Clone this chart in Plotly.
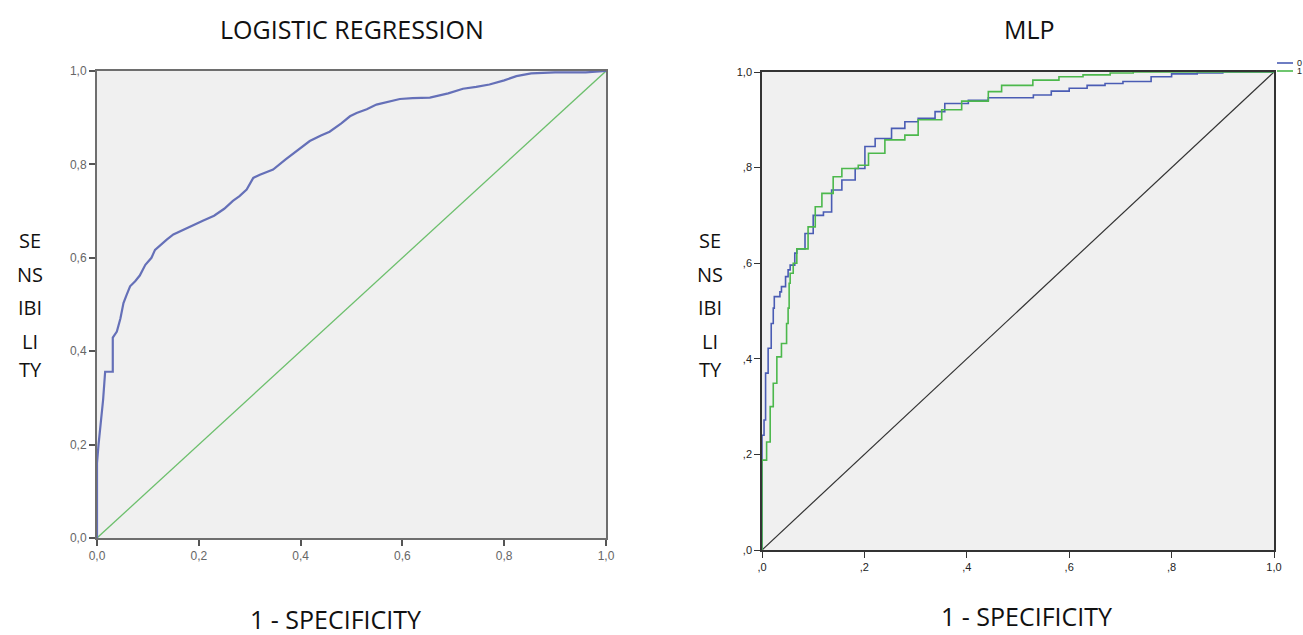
import plotly.graph_objects as go

# ---------------- data ----------------
# Logistic regression ROC (1 - specificity, sensitivity)
lr_fpr = [0.0, 0.0, 0.003, 0.008, 0.012, 0.016, 0.031, 0.031, 0.039, 0.046, 0.052, 0.058, 0.065,
          0.075, 0.084, 0.095, 0.107, 0.114, 0.125, 0.137, 0.150, 0.165, 0.183, 0.209, 0.230,
          0.250, 0.267, 0.280, 0.294, 0.307, 0.320, 0.346, 0.370, 0.395, 0.418, 0.440, 0.457,
          0.480, 0.497, 0.510, 0.530, 0.549, 0.570, 0.595, 0.620, 0.654, 0.690, 0.719, 0.745,
          0.771, 0.800, 0.824, 0.853, 0.900, 0.960, 1.0]
lr_tpr = [0.0, 0.16, 0.20, 0.25, 0.296, 0.356, 0.356, 0.429, 0.442, 0.470, 0.503, 0.520, 0.539,
          0.550, 0.562, 0.585, 0.600, 0.617, 0.628, 0.639, 0.650, 0.658, 0.667, 0.680, 0.690,
          0.705, 0.722, 0.732, 0.746, 0.771, 0.778, 0.789, 0.810, 0.830, 0.850, 0.862, 0.870,
          0.888, 0.903, 0.910, 0.918, 0.928, 0.933, 0.940, 0.942, 0.943, 0.952, 0.962, 0.966,
          0.971, 0.980, 0.989, 0.995, 0.997, 0.997, 1.0]
lr_ref = [0.0, 1.0]

# MLP ROC, class 0
mlp0_fpr = [0.0, 0.0, 0.0, 0.004, 0.007, 0.012, 0.018, 0.022, 0.024, 0.035, 0.038, 0.046, 0.051,
            0.055, 0.064, 0.068, 0.084, 0.100, 0.120, 0.136, 0.156, 0.182, 0.201, 0.221, 0.253,
            0.279, 0.305, 0.338, 0.357, 0.403, 0.442, 0.500, 0.530, 0.565, 0.600, 0.635, 0.670,
            0.705, 0.760, 0.800, 0.850, 0.900, 1.0]
mlp0_tpr = [0.0, 0.216, 0.240, 0.272, 0.370, 0.422, 0.474, 0.506, 0.530, 0.540, 0.551, 0.572, 0.586,
            0.596, 0.621, 0.630, 0.662, 0.700, 0.707, 0.753, 0.774, 0.798, 0.844, 0.861, 0.882,
            0.896, 0.903, 0.917, 0.934, 0.941, 0.946, 0.946, 0.952, 0.960, 0.966, 0.972, 0.976,
            0.980, 0.990, 0.996, 0.998, 1.0, 1.0]

# MLP ROC, class 1
mlp1_fpr = [0.0, 0.0, 0.0, 0.009, 0.016, 0.022, 0.029, 0.038, 0.048, 0.051, 0.053, 0.055, 0.061,
            0.068, 0.090, 0.104, 0.117, 0.139, 0.156, 0.188, 0.208, 0.240, 0.279, 0.305, 0.351,
            0.390, 0.442, 0.468, 0.529, 0.580, 0.627, 0.680, 0.725, 0.800, 1.0]
mlp1_tpr = [0.0, 0.108, 0.188, 0.226, 0.300, 0.349, 0.404, 0.432, 0.474, 0.506, 0.558, 0.579, 0.600,
            0.630, 0.676, 0.718, 0.746, 0.781, 0.798, 0.805, 0.830, 0.858, 0.868, 0.900, 0.921,
            0.939, 0.959, 0.972, 0.983, 0.990, 0.994, 0.998, 1.0, 1.0, 1.0]
mlp_ref = [0.0, 1.0]

tick_vals = [0, 0.2, 0.4, 0.6, 0.8, 1.0]
lr_tick_text = ["0,0", "0,2", "0,4", "0,6", "0,8", "1,0"]
mlp_tick_text = [",0", ",2", ",4", ",6", ",8", "1,0"]
legend_names = ["0", "1"]
titles = ["LOGISTIC REGRESSION", "MLP"]
x_title = "1 - SPECIFICITY"
y_title_lines = ["SE", "NS", "IBI", "LI", "TY"]

# ---------------- figure ----------------
W, H = 1303, 635
BLUE_L = "#6570b8"
GREEN_L = "#6cbf6c"
BLUE = "#4a5cb4"
GREEN = "#4cb84c"

fig = go.Figure()
fig.add_trace(go.Scatter(x=lr_ref, y=lr_ref, mode="lines", line=dict(color=GREEN_L, width=1.3),
                         xaxis="x", yaxis="y", showlegend=False))
fig.add_trace(go.Scatter(x=lr_fpr, y=lr_tpr, mode="lines", line=dict(color=BLUE_L, width=2.2),
                         xaxis="x", yaxis="y", showlegend=False))
fig.add_trace(go.Scatter(x=mlp_ref, y=mlp_ref, mode="lines", line=dict(color="#333333", width=1.2),
                         xaxis="x2", yaxis="y2", showlegend=False))
fig.add_trace(go.Scatter(x=mlp0_fpr, y=mlp0_tpr, mode="lines", line=dict(color=BLUE, width=1.6, shape="hv"),
                         xaxis="x2", yaxis="y2", name=legend_names[0], showlegend=False))
fig.add_trace(go.Scatter(x=mlp1_fpr, y=mlp1_tpr, mode="lines", line=dict(color=GREEN, width=1.6, shape="hv"),
                         xaxis="x2", yaxis="y2", name=legend_names[1], showlegend=False))

def px_x(p):
    return p / W

def px_y(p):
    return 1 - p / H

axis_common = dict(range=[0, 1], showgrid=False, zeroline=False, ticks="outside", ticklen=6,
                   mirror=True, showline=True, tickvals=tick_vals, fixedrange=True,
                   automargin=False)

lr_tick_font = dict(family="Liberation Sans Narrow, Arial Narrow, Liberation Sans", size=12, color="#666666")
mlp_tick_font = dict(family="Liberation Sans Narrow, Arial Narrow, Liberation Sans", size=11, color="#222222")

fig.update_layout(
    width=W, height=H,
    margin=dict(l=0, r=0, t=0, b=0),
    paper_bgcolor="white",
    plot_bgcolor="#f0f0f0",
    showlegend=False,
    xaxis=dict(domain=[px_x(97), px_x(606)], anchor="y", ticktext=lr_tick_text,
               linecolor="#6e6e6e", linewidth=2, tickcolor="#555555", tickwidth=1.5,
               tickfont=lr_tick_font, **axis_common),
    yaxis=dict(domain=[px_y(538), px_y(71)], anchor="x", ticktext=lr_tick_text,
               linecolor="#6e6e6e", linewidth=2, tickcolor="#555555", tickwidth=1.5,
               tickfont=lr_tick_font, **axis_common),
    xaxis2=dict(domain=[px_x(762), px_x(1274)], anchor="y2", ticktext=mlp_tick_text,
                linecolor="#333333", linewidth=1.5, tickcolor="#333333", tickwidth=1,
                tickfont=mlp_tick_font, **axis_common),
    yaxis2=dict(domain=[px_y(550), px_y(72)], anchor="x2", ticktext=mlp_tick_text,
                linecolor="#333333", linewidth=1.5, tickcolor="#333333", tickwidth=1,
                tickfont=mlp_tick_font, **axis_common),
)

big_font = dict(family="Open Sans, Noto Sans, sans-serif", size=25, color="#111111")
lbl_font = dict(family="Open Sans, Noto Sans, sans-serif", size=20, color="#111111")
annotations = [
    dict(text=titles[0], x=px_x(352), y=px_y(29), font=big_font),
    dict(text=titles[1], x=px_x(1029), y=px_y(29), font=big_font),
    dict(text=x_title, x=px_x(335), y=px_y(619), font=big_font),
    dict(text=x_title, x=px_x(1026), y=px_y(616), font=big_font),
]
line_ys = [240, 274, 308, 341, 369]
for cx in (30, 710):
    for t, yy in zip(y_title_lines, line_ys):
        annotations.append(dict(text=t, x=px_x(cx), y=px_y(yy), font=lbl_font))
for a in annotations:
    a.update(xref="paper", yref="paper", showarrow=False,
             xanchor="center", yanchor="middle")

# legend entries (top right, outside plot)
leg_font = dict(family="Liberation Sans, Arial", size=9, color="#222222")
for name, col, yy in zip(legend_names, [BLUE, GREEN], [63, 71]):
    annotations.append(dict(text=name, x=px_x(1295), y=px_y(yy), xref="paper", yref="paper",
                            showarrow=False, font=leg_font, xanchor="left", yanchor="middle"))
    fig.add_shape(type="line", xref="paper", yref="paper",
                  x0=px_x(1277), x1=px_x(1293), y0=px_y(yy), y1=px_y(yy),
                  line=dict(color=col, width=1.6))

fig.update_layout(annotations=annotations)
fig.write_html("out.html", config={"displayModeBar": False},
               post_script="document.body.style.margin='0';document.body.style.overflow='hidden';")
